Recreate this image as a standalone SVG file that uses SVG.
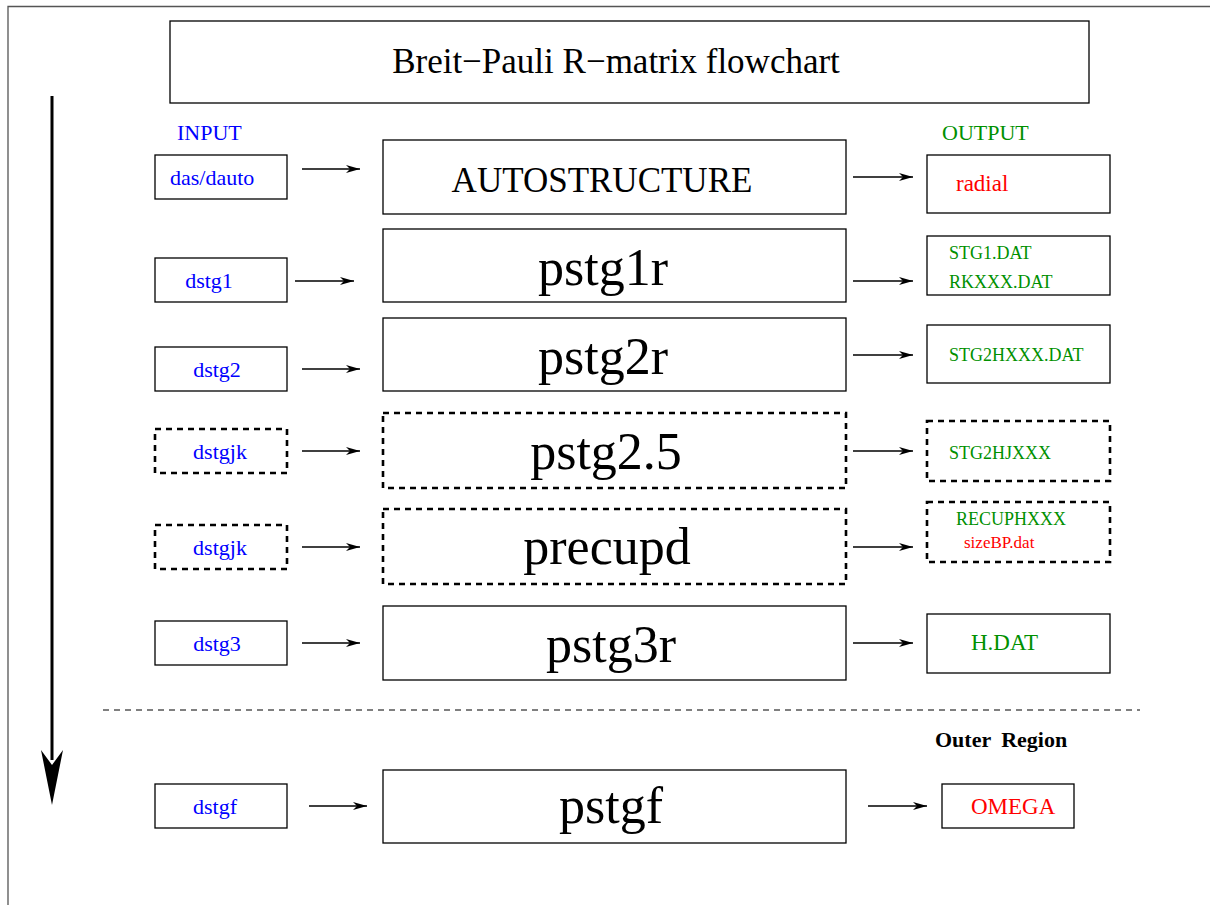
<svg xmlns="http://www.w3.org/2000/svg" width="1210" height="905" viewBox="0 0 1210 905">
<style>
.box{fill:#fff;stroke:#000;stroke-width:1.3}
.dash{fill:#fff;stroke:#000;stroke-width:2.6;stroke-dasharray:6 5}
.conn{stroke:#000;stroke-width:1.3;fill:none}
.t{font-family:"Liberation Serif",serif}
.in{fill:#0000ff;font-size:22px;font-family:"Liberation Serif",serif}
.big{font-size:52px;font-family:"Liberation Serif",serif;text-anchor:middle}
.g{fill:#009000;font-family:"Liberation Serif",serif}
.r{fill:#ff0000;font-family:"Liberation Serif",serif}
</style>
<defs>
<marker id="ah" viewBox="0 0 14 8" refX="14" refY="4" markerWidth="14" markerHeight="8" markerUnits="userSpaceOnUse" orient="auto">
<path d="M0,0 L14,4 L0,8 L4,4 Z" fill="#000"/>
</marker>
</defs>
<rect width="1210" height="905" fill="#fff"/>
<path d="M8,905 V6.5 H1210" fill="none" stroke="#555" stroke-width="1.3"/>

<g id="title">
<rect class="box" x="170" y="21" width="919" height="82"/>
<text class="t" x="616" y="73" font-size="35" text-anchor="middle">Breit−Pauli R−matrix flowchart</text>
</g>

<g id="labels">
<text x="177" y="140" fill="#0000ff" font-size="22" font-family="Liberation Serif,serif">INPUT</text>
<text x="942" y="140" fill="#009000" font-size="22" font-family="Liberation Serif,serif">OUTPUT</text>
<text x="935" y="747" font-size="22" font-weight="bold" font-family="Liberation Serif,serif">Outer<tspan dx="10">Region</tspan></text>
</g>

<g id="in1"><rect class="box" x="155" y="155" width="132" height="44"/><text class="in" x="170" y="185">das/dauto</text></g>
<g id="main1"><rect class="box" x="383" y="140" width="463" height="74"/><text class="t" x="602" y="192" font-size="35" text-anchor="middle">AUTOSTRUCTURE</text></g>
<g id="out1"><rect class="box" x="927" y="155" width="183" height="58"/><text class="r" x="956" y="191" font-size="23">radial</text></g>

<g id="in2"><rect class="box" x="155" y="258" width="132" height="44"/><text class="in" x="209" y="288" text-anchor="middle">dstg1</text></g>
<g id="main2"><rect class="box" x="383" y="229" width="463" height="73"/><text class="big" x="603" y="285">pstg1r</text></g>
<g id="out2"><rect class="box" x="927" y="236" width="183" height="59"/><text class="g" x="949" y="259" font-size="18">STG1.DAT</text><text class="g" x="949" y="288" font-size="18">RKXXX.DAT</text></g>

<g id="in3"><rect class="box" x="155" y="347" width="132" height="44"/><text class="in" x="217" y="377" text-anchor="middle">dstg2</text></g>
<g id="main3"><rect class="box" x="383" y="318" width="463" height="73"/><text class="big" x="603" y="374">pstg2r</text></g>
<g id="out3"><rect class="box" x="927" y="325" width="183" height="58"/><text class="g" x="949" y="361" font-size="18">STG2HXXX.DAT</text></g>

<g id="in4"><rect class="dash" x="155" y="429" width="132" height="44"/><text class="in" x="220" y="459" text-anchor="middle">dstgjk</text></g>
<g id="main4"><rect class="dash" x="383" y="413" width="463" height="75"/><text class="big" x="606" y="469">pstg2.5</text></g>
<g id="out4"><rect class="dash" x="927" y="421" width="183" height="60"/><text class="g" x="949" y="459" font-size="18">STG2HJXXX</text></g>

<g id="in5"><rect class="dash" x="155" y="525" width="132" height="44"/><text class="in" x="220" y="555" text-anchor="middle">dstgjk</text></g>
<g id="main5"><rect class="dash" x="383" y="509" width="463" height="75"/><text class="big" x="607" y="564">precupd</text></g>
<g id="out5"><rect class="dash" x="927" y="502" width="183" height="60"/><text class="g" x="956" y="525" font-size="18">RECUPHXXX</text><text class="r" x="964" y="548" font-size="17">sizeBP.dat</text></g>

<g id="in6"><rect class="box" x="155" y="621" width="132" height="44"/><text class="in" x="217" y="651" text-anchor="middle">dstg3</text></g>
<g id="main6"><rect class="box" x="383" y="606" width="463" height="74"/><text class="big" x="611" y="662">pstg3r</text></g>
<g id="out6"><rect class="box" x="927" y="614" width="183" height="59"/><text class="g" x="971" y="650" font-size="23">H.DAT</text></g>

<g id="in7"><rect class="box" x="155" y="784" width="132" height="44"/><text class="in" x="215" y="814" text-anchor="middle">dstgf</text></g>
<g id="main7"><rect class="box" x="383" y="770" width="463" height="73"/><text class="big" x="611" y="823">pstgf</text></g>
<g id="out7"><rect class="box" x="942" y="784" width="132" height="44"/><text class="r" x="971" y="814" font-size="23">OMEGA</text></g>

<g id="connectors">
<line class="conn" x1="302" y1="169" x2="360" y2="169" marker-end="url(#ah)"/>
<line class="conn" x1="853" y1="177" x2="913" y2="177" marker-end="url(#ah)"/>
<line class="conn" x1="295" y1="281" x2="354" y2="281" marker-end="url(#ah)"/>
<line class="conn" x1="853" y1="281" x2="913" y2="281" marker-end="url(#ah)"/>
<line class="conn" x1="302" y1="369" x2="360" y2="369" marker-end="url(#ah)"/>
<line class="conn" x1="853" y1="355" x2="913" y2="355" marker-end="url(#ah)"/>
<line class="conn" x1="302" y1="451" x2="360" y2="451" marker-end="url(#ah)"/>
<line class="conn" x1="853" y1="451" x2="913" y2="451" marker-end="url(#ah)"/>
<line class="conn" x1="302" y1="547" x2="360" y2="547" marker-end="url(#ah)"/>
<line class="conn" x1="853" y1="547" x2="913" y2="547" marker-end="url(#ah)"/>
<line class="conn" x1="302" y1="643" x2="360" y2="643" marker-end="url(#ah)"/>
<line class="conn" x1="853" y1="643" x2="913" y2="643" marker-end="url(#ah)"/>
<line class="conn" x1="309" y1="806" x2="367" y2="806" marker-end="url(#ah)"/>
<line class="conn" x1="868" y1="806" x2="927" y2="806" marker-end="url(#ah)"/>
<line x1="103" y1="710" x2="1140" y2="710" stroke="#000" stroke-width="1" stroke-dasharray="6 5"/>
<line x1="52" y1="96" x2="52" y2="760" stroke="#000" stroke-width="3"/>
<path d="M41,750 L52,805 L63,750 L52,765 Z" fill="#000"/>
</g>
</svg>
